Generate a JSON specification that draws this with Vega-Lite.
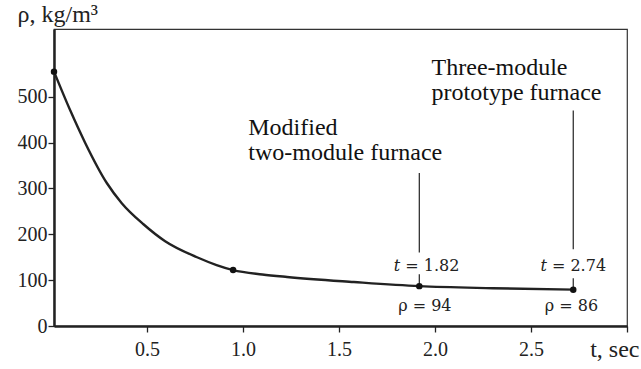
{
  "$schema": "https://vega.github.io/schema/vega-lite/v6.json",
  "width": 573,
  "height": 297,
  "autosize": {"type": "none"},
  "padding": {"left": 54, "top": 29, "right": 14, "bottom": 43},
  "config": {
    "view": {"stroke": "#333", "strokeWidth": 1.2},
    "font": "Times New Roman"
  },
  "datasets": {
    "curve": [
      {"t": 0.015, "rho": 555},
      {"t": 0.1, "rho": 470},
      {"t": 0.177, "rho": 400},
      {"t": 0.29, "rho": 312},
      {"t": 0.368, "rho": 268},
      {"t": 0.481, "rho": 222},
      {"t": 0.594, "rho": 185},
      {"t": 0.76, "rho": 150},
      {"t": 0.862, "rho": 133},
      {"t": 0.948, "rho": 122},
      {"t": 1.1, "rho": 112.5},
      {"t": 1.229, "rho": 107},
      {"t": 1.577, "rho": 96},
      {"t": 1.918, "rho": 87},
      {"t": 2.3, "rho": 82.5},
      {"t": 2.72, "rho": 79.3}
    ],
    "points": [
      {"t": 0.015, "rho": 555},
      {"t": 0.948, "rho": 122},
      {"t": 1.918, "rho": 87},
      {"t": 2.72, "rho": 79.3}
    ],
    "rules": [
      {"t": 1.918, "y1": 334, "y2": 160.6},
      {"t": 1.918, "y1": 112.7, "y2": 87},
      {"t": 2.72, "y1": 470, "y2": 167.2},
      {"t": 2.72, "y1": 104, "y2": 79.3}
    ],
    "tlabels": [
      {"t": 1.956, "rho": 130.8, "val": "= 1.82"},
      {"t": 2.72, "rho": 130.8, "val": "= 2.74"}
    ],
    "rholabels": [
      {"t": 1.947, "rho": 43.6, "val": "ρ = 94"},
      {"t": 2.711, "rho": 43.6, "val": "ρ = 86"}
    ],
    "notes": [
      {"t": 1.027, "rho": 417.8, "txt": "Modified\ntwo-module furnace"},
      {"t": 1.982, "rho": 548.6, "txt": "Three-module\nprototype furnace"}
    ]
  },
  "encoding": {
    "x": {
      "field": "t",
      "type": "quantitative",
      "scale": {"domain": [0.015, 3.0], "nice": false, "zero": false},
      "axis": {
        "values": [0.5, 1, 1.5, 2, 2.5, 3],
        "labelExpr": "datum.value >= 2.99 ? '' : format(datum.value, '.1f')",
        "labelOverlap": false,
        "labelFlush": false,
        "grid": false,
        "domainColor": "#222",
        "domainWidth": 2.5,
        "tickColor": "#222",
        "tickWidth": 1.3,
        "tickSize": 6,
        "labelFont": "Liberation Serif",
        "labelFontSize": 20,
        "labelColor": "#222",
        "labelPadding": 7,
        "title": "t, sec",
        "titleFont": "serif",
        "titleFontSize": 24,
        "titleFontWeight": "normal",
        "titleColor": "#222",
        "titleAlign": "right",
        "titleBaseline": "alphabetic",
        "titleX": 585,
        "titleY": 30
      }
    },
    "y": {
      "field": "rho",
      "type": "quantitative",
      "scale": {"domain": [0, 648], "nice": false},
      "axis": {
        "values": [0, 100, 200, 300, 400, 500],
        "grid": false,
        "domainColor": "#222",
        "domainWidth": 2.5,
        "tickColor": "#222",
        "tickWidth": 1.3,
        "tickSize": 6,
        "labelFont": "Liberation Serif",
        "labelFontSize": 20,
        "labelColor": "#222",
        "labelPadding": 1,
        "title": "ρ, kg/m³",
        "titleFont": "Times New Roman",
        "titleFontSize": 24,
        "titleFontWeight": "normal",
        "titleColor": "#222",
        "titleAngle": 0,
        "titleAlign": "left",
        "titleBaseline": "alphabetic",
        "titleX": -37,
        "titleY": -8
      }
    }
  },
  "layer": [
    {
      "data": {"name": "curve"},
      "mark": {"type": "line", "interpolate": "monotone", "color": "#222", "strokeWidth": 2.4}
    },
    {
      "data": {"name": "rules"},
      "mark": {"type": "rule", "color": "#222", "strokeWidth": 1.2},
      "encoding": {
        "y": {"field": "y1", "type": "quantitative"},
        "y2": {"field": "y2"}
      }
    },
    {
      "data": {"name": "points"},
      "mark": {"type": "circle", "size": 42, "color": "#111", "opacity": 1}
    },
    {
      "data": {"name": "tlabels"},
      "mark": {"type": "text", "align": "right", "baseline": "middle", "dx": -26.4, "font": "DejaVu Serif", "fontSize": 16, "fontStyle": "italic", "color": "#222"},
      "encoding": {"text": {"value": "t"}}
    },
    {
      "data": {"name": "tlabels"},
      "mark": {"type": "text", "align": "left", "baseline": "middle", "dx": -21.3, "font": "DejaVu Serif", "fontSize": 16, "color": "#222"},
      "encoding": {"text": {"field": "val"}}
    },
    {
      "data": {"name": "rholabels"},
      "mark": {"type": "text", "align": "center", "baseline": "middle", "font": "DejaVu Serif", "fontSize": 16, "color": "#222"},
      "encoding": {"text": {"field": "val"}}
    },
    {
      "data": {"name": "notes"},
      "mark": {"type": "text", "align": "left", "baseline": "alphabetic", "lineBreak": "\n", "lineHeight": 25, "font": "Liberation Serif", "fontSize": 24, "color": "#111"},
      "encoding": {"text": {"field": "txt"}}
    }
  ]
}
